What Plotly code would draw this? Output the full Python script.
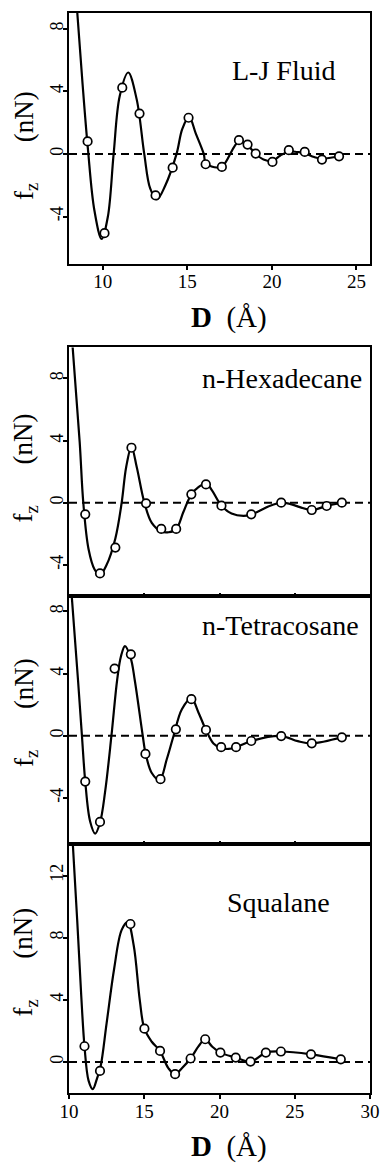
import plotly.graph_objects as go

# ---------------- data ----------------
panel_names = ["L-J Fluid", "n-Hexadecane", "n-Tetracosane", "Squalane"]

lj_d = [9.1, 10.1, 11.15, 12.17, 13.12, 14.13, 15.07, 16.08, 17.04, 18.05, 18.56, 19.04, 20.03, 21.0, 21.94, 22.96, 23.97]
lj_f = [0.8, -5.06, 4.23, 2.58, -2.65, -0.88, 2.31, -0.66, -0.83, 0.88, 0.6, 0.02, -0.51, 0.24, 0.13, -0.36, -0.15]
lj_fit_d = [8.45, 8.8, 9.12, 9.5, 9.93, 10.3, 10.64, 11.0, 11.5, 12.0, 12.45, 12.8, 13.2, 13.7, 14.36, 14.7, 15.1, 15.5,
            15.97, 16.08, 16.6, 17.04, 18.05, 18.56, 19.04, 19.5, 20.03, 20.5, 21.0, 21.5, 21.94, 22.5, 22.96, 23.97]
lj_fit_f = [9.6, 4.5, 0.3, -3.6, -5.43, -4.0, 0.0, 3.7, 5.2, 3.5, 0.0, -2.2, -2.9, -2.0, 0.0, 1.6, 2.37, 1.3,
            0.0, -0.55, -0.85, -0.83, 0.8, 0.55, 0.0, -0.35, -0.45, -0.1, 0.15, 0.12, 0.05, -0.2, -0.3, -0.15]

hex_d = [11.08, 12.06, 13.08, 14.15, 15.12, 16.13, 17.12, 18.13, 19.1, 20.13, 22.11, 24.1, 26.13, 27.12, 28.13]
hex_f = [-0.75, -4.55, -2.89, 3.54, -0.04, -1.69, -1.69, 0.54, 1.18, -0.19, -0.75, 0.0, -0.47, -0.21, 0.0]
hex_fit_d = [10.22, 10.71, 10.95, 11.3, 11.7, 12.06, 12.5, 13.08, 13.5, 13.8, 14.15, 14.5, 15.01, 15.5, 16.13, 16.62,
             17.12, 17.6, 18.13, 18.6, 19.1, 19.5, 20.13, 20.8, 21.6, 22.11, 24.1, 26.13, 27.12, 28.13]
hex_fit_f = [10.3, 3.9, 0.0, -3.0, -4.3, -4.65, -4.0, -2.3, 0.0, 2.3, 3.6, 2.3, 0.0, -1.3, -1.85, -1.9,
             -1.7, -0.6, 0.54, 1.0, 1.25, 0.8, -0.19, -0.7, -0.85, -0.75, 0.0, -0.47, -0.2, 0.0]

tet_d = [11.08, 12.06, 13.03, 14.11, 15.08, 16.08, 17.1, 18.13, 19.1, 20.11, 21.1, 22.11, 24.1, 26.13, 28.13]
tet_f = [-2.95, -5.55, 4.32, 5.24, -1.17, -2.8, 0.41, 2.35, 0.37, -0.74, -0.74, -0.34, -0.02, -0.49, -0.1]
tet_fit_d = [10.15, 10.6, 10.86, 11.08, 11.4, 11.74, 12.06, 12.4, 12.82, 13.2, 13.45, 13.72, 14.1, 14.37, 14.9, 15.08,
             15.5, 16.02, 16.5, 16.95, 17.5, 18.13, 18.6, 19.1, 19.6, 20.11, 20.6, 21.1, 22.11, 24.1, 25.2, 26.13, 28.13]
tet_fit_f = [9.4, 3.57, 0.0, -2.95, -5.5, -6.3, -5.6, -3.6, 0.0, 3.6, 5.1, 5.77, 5.0, 3.57, 0.0, -1.1,
             -2.4, -2.85, -1.5, 0.0, 1.7, 2.4, 1.5, 0.37, -0.5, -0.8, -0.85, -0.74, -0.34, -0.02, -0.35, -0.49, -0.1]

sq_d = [11.03, 12.06, 14.08, 15.01, 16.05, 17.05, 18.08, 19.05, 20.06, 21.08, 22.06, 23.08, 24.08, 26.08, 28.06]
sq_f = [1.01, -0.58, 8.88, 2.14, 0.71, -0.79, 0.22, 1.46, 0.6, 0.28, 0.02, 0.6, 0.67, 0.49, 0.17]
sq_fit_d = [10.22, 10.54, 10.8, 11.03, 11.3, 11.58, 11.85, 12.1, 12.5, 13.0, 13.5, 13.9, 14.3, 14.7, 15.01, 15.5,
            16.05, 16.6, 17.05, 17.5, 18.08, 18.6, 19.05, 19.5, 20.06, 21.08, 22.06, 23.08, 24.08, 26.08, 28.06]
sq_fit_f = [14.6, 9.2, 4.5, 1.0, -1.2, -1.75, -1.1, -0.3, 2.5, 6.0, 8.5, 9.0, 7.5, 4.0, 2.14, 1.3,
            0.7, -0.4, -0.8, -0.4, 0.22, 1.0, 1.46, 1.0, 0.6, 0.28, 0.02, 0.6, 0.67, 0.49, 0.17]

x_ranges = [[8, 25.8], [10, 30], [10, 30], [10, 30]]
y_ranges = [[-7, 9], [-6, 10], [-7, 9], [-2, 14]]
x_ticks_top = [10, 15, 20, 25]
x_ticks_bottom = [10, 15, 20, 25, 30]
x_ticks_inner = [15, 20, 25]
y_ticks_a = [-4, 0, 4, 8]
y_ticks_a_text = ["-4", "0", "4", "8"]
y_ticks_b = [0, 4, 8, 12]
y_ticks_b_text = ["0", "4", "8", "12"]

# ---------------- layout geometry ----------------
W, H = 391, 1163
L, R, T, B = 69, 12, 11, 70
PW, PH = W - L - R, H - T - B


def px_x(px):
    return (px - L) / PW


def px_y(py):
    return (H - B - py) / PH


# panel pixel spans (top, bottom)
spans = [(11, 262), (346, 595), (595, 844), (844, 1093)]
ytitle_centers = [144, 467, 712, 962]

FONT = "Liberation Serif, Times New Roman, serif"
series = [
    (lj_d, lj_f, lj_fit_d, lj_fit_f),
    (hex_d, hex_f, hex_fit_d, hex_fit_f),
    (tet_d, tet_f, tet_fit_d, tet_fit_f),
    (sq_d, sq_f, sq_fit_d, sq_fit_f),
]

fig = go.Figure()
shapes = []
for i, (d, f, fd, ff) in enumerate(series):
    xa = "x" if i == 0 else f"x{i+1}"
    ya = "y" if i == 0 else f"y{i+1}"
    fig.add_trace(go.Scatter(x=fd, y=ff, mode="lines", xaxis=xa, yaxis=ya,
                             line=dict(color="black", width=2.2, shape="spline", smoothing=1.0),
                             hoverinfo="skip", showlegend=False))
    fig.add_trace(go.Scatter(x=d, y=f, mode="markers", xaxis=xa, yaxis=ya,
                             marker=dict(symbol="circle", size=8.5, color="white",
                                         line=dict(color="black", width=1.7)),
                             showlegend=False))
    shapes.append(dict(type="line", xref=f"{xa} domain", x0=0, x1=1, yref=ya, y0=0, y1=0,
                       line=dict(color="black", width=2, dash="8px,5px"), layer="below"))

axis_common = dict(showline=True, linecolor="black", linewidth=2, mirror=True,
                   showgrid=False, zeroline=False, ticks="outside", ticklen=4, tickwidth=1.5,
                   tickcolor="black", tickfont=dict(family=FONT, size=19, color="black"))

layout = dict(width=W, height=H, margin=dict(l=L, r=R, t=T, b=B),
              paper_bgcolor="white", plot_bgcolor="white", shapes=shapes, showlegend=False)

for i in range(4):
    top, bot = spans[i]
    xkey = "xaxis" if i == 0 else f"xaxis{i+1}"
    ykey = "yaxis" if i == 0 else f"yaxis{i+1}"
    xa = "x" if i == 0 else f"x{i+1}"
    ya = "y" if i == 0 else f"y{i+1}"
    xax = dict(axis_common, domain=[0, 1], anchor=ya, range=x_ranges[i], ticklabelstandoff=-4)
    if i == 0:
        xax.update(tickmode="array", tickvals=x_ticks_top)
    elif i == 3:
        xax.update(tickmode="array", tickvals=x_ticks_bottom)
    else:
        xax.update(tickmode="array", tickvals=x_ticks_inner, ticks="inside", ticklen=3,
                   showticklabels=False)
    yvals, ytext = (y_ticks_b, y_ticks_b_text) if i == 3 else (y_ticks_a, y_ticks_a_text)
    yax = dict(axis_common, domain=[px_y(bot), px_y(top)], anchor=xa, range=y_ranges[i],
               tickmode="array", tickvals=yvals, ticktext=ytext, tickangle=-90,
               ticklabelstandoff=-7,
               tickfont=dict(family=FONT, size=18, color="black"))
    layout[xkey] = xax
    layout[ykey] = yax

annotations = []
label_pos = [(290, 69), (288, 377), (287, 625), (285, 902)]
for name, (cx, cy) in zip(panel_names, label_pos):
    annotations.append(dict(text=name, xref="paper", yref="paper", x=px_x(cx), y=px_y(cy),
                            xanchor="center", yanchor="middle", showarrow=False,
                            font=dict(family=FONT, size=28, color="black")))
ytitle = "f<sub>z</sub>" + "\u00a0" * 6 + "(nN)"
for cy in ytitle_centers:
    annotations.append(dict(text=ytitle, xref="paper", yref="paper",
                            x=px_x(24), y=px_y(cy), textangle=-90,
                            xanchor="center", yanchor="middle", showarrow=False,
                            font=dict(family=FONT, size=27, color="black")))
for cy in (316, 1147):
    annotations.append(dict(text="<b>D</b>\u00a0\u00a0(Å)", xref="paper", yref="paper",
                            x=px_x(234), y=px_y(cy), xanchor="center", yanchor="middle",
                            showarrow=False, font=dict(family=FONT, size=29, color="black")))
layout["annotations"] = annotations

fig.update_layout(**layout)
fig.write_html("out.html", config={"displayModeBar": False},
               post_script="document.body.style.margin='0px';")
